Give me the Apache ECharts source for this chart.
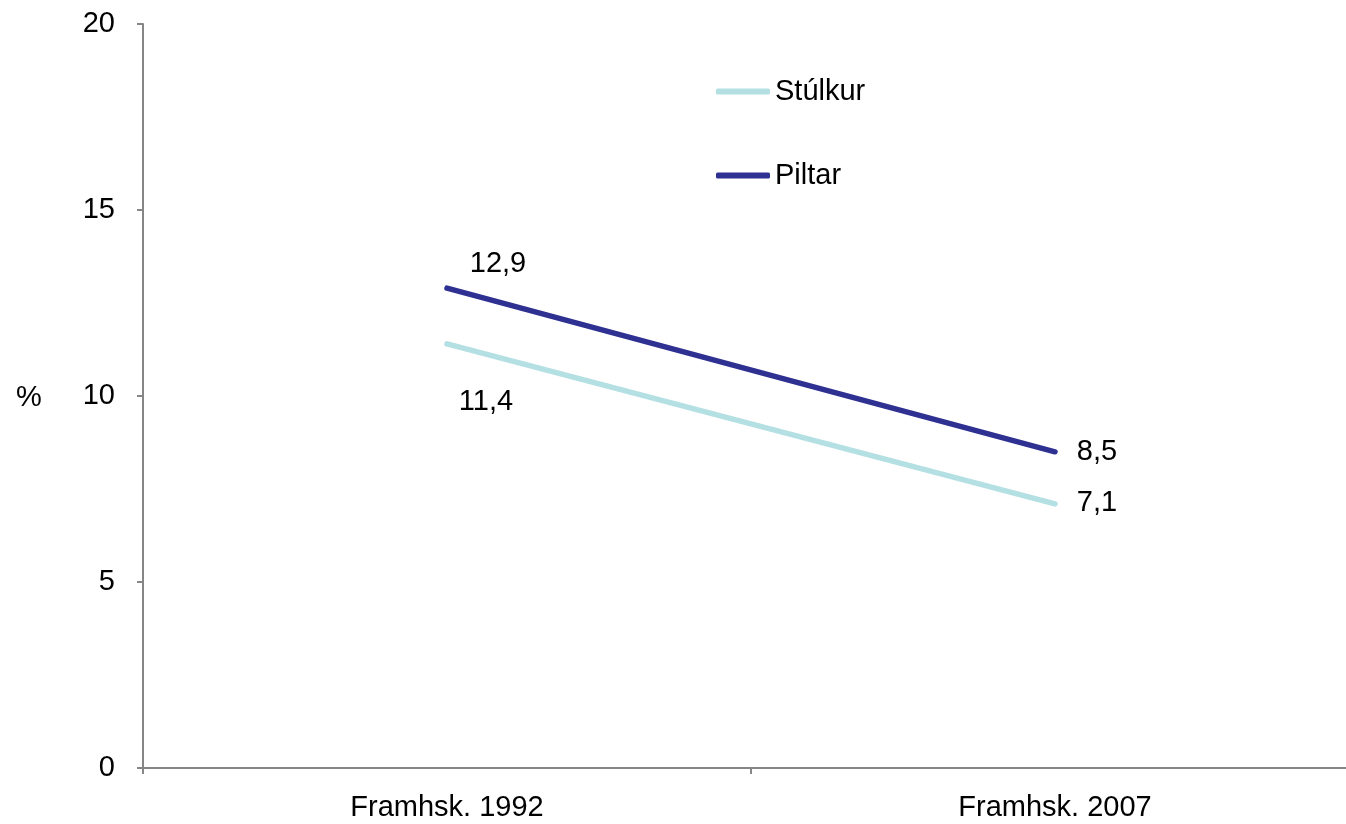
<!DOCTYPE html>
<html>
<head>
<meta charset="utf-8">
<script src="https://cdn.jsdelivr.net/npm/echarts@6/dist/echarts.min.js"></script>
<style>
html,body{margin:0;padding:0;background:#fff;}
#chart{width:1346px;height:824px;}
</style>
</head>
<body>
<div id="chart"></div>
<script>
const categories = ['Framhsk. 1992', 'Framhsk. 2007'];
const stulkur = [11.4, 7.1];
const piltar = [12.9, 8.5];
const yTicks = [0, 5, 10, 15, 20];

const FONT = '"Liberation Sans", Arial, sans-serif';
const FS = 29;

function fmt(v) { return String(v).replace('.', ','); }

function buildData(values, offsets) {
  return values.map((v, i) => ({
    value: v,
    label: { offset: offsets[i] }
  }));
}

const chart = echarts.init(document.getElementById('chart'));
chart.setOption({
  backgroundColor: '#ffffff',
  animation: false,
  grid: { left: 143, width: 1216, top: 24, bottom: 56, containLabel: false, outerBoundsMode: 'none' },
  legend: {
    orient: 'vertical',
    left: 711,
    top: 72,
    itemWidth: 54,
    itemHeight: 6,
    itemGap: 55,
    icon: 'roundRect',
    textStyle: { fontFamily: FONT, fontSize: FS, color: '#000' },
    data: ['Stúlkur', 'Piltar']
  },
  graphic: [{
    type: 'text',
    left: 16,
    top: 383,
    style: { text: '%', font: FS + 'px ' + FONT, fill: '#000' }
  }],
  xAxis: {
    type: 'category',
    data: categories,
    boundaryGap: true,
    axisLine: { lineStyle: { color: '#868686', width: 2 } },
    axisTick: { show: true, length: 6, lineStyle: { color: '#868686', width: 2 } },
    axisLabel: { fontFamily: FONT, fontSize: FS, color: '#000', margin: 25 }
  },
  yAxis: {
    type: 'value',
    min: yTicks[0],
    max: yTicks[yTicks.length - 1],
    interval: 5,
    splitLine: { show: false },
    axisLine: { show: true, lineStyle: { color: '#868686', width: 2 } },
    axisTick: { show: true, length: 6, lineStyle: { color: '#868686', width: 2 } },
    axisLabel: { fontFamily: FONT, fontSize: FS, color: '#000', margin: 28, padding: [4, 0, 0, 0] }
  },
  series: [
    {
      name: 'Stúlkur',
      type: 'line',
      data: buildData(stulkur, [[39, 58], [42, -1]]),
      symbol: 'circle',
      symbolSize: 1,
      showSymbol: true,
      lineStyle: { color: '#B4DFE3', width: 5.5, cap: 'round' },
      itemStyle: { color: '#B4DFE3' },
      label: {
        show: true, position: 'inside',
        fontFamily: FONT, fontSize: FS, color: '#000',
        formatter: p => fmt(p.value)
      }
    },
    {
      name: 'Piltar',
      type: 'line',
      data: buildData(piltar, [[51, -24], [42, 0]]),
      symbol: 'circle',
      symbolSize: 1,
      showSymbol: true,
      lineStyle: { color: '#2F3192', width: 5.5, cap: 'round' },
      itemStyle: { color: '#2F3192' },
      label: {
        show: true, position: 'inside',
        fontFamily: FONT, fontSize: FS, color: '#000',
        formatter: p => fmt(p.value)
      }
    }
  ]
});
</script>
</body>
</html>
